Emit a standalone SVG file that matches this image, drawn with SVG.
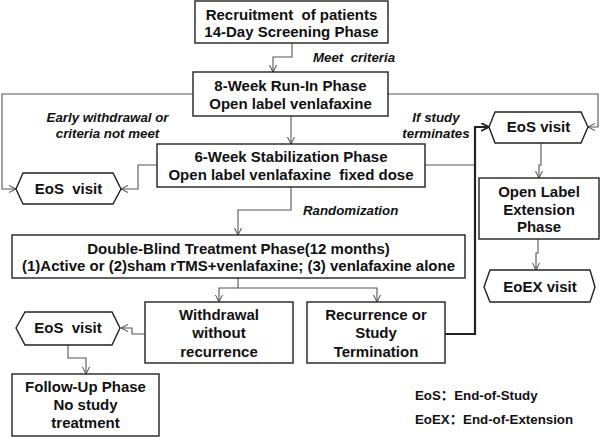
<svg xmlns="http://www.w3.org/2000/svg" width="600" height="437" viewBox="0 0 600 437">
<defs>
<style>
.box{fill:#fff;stroke:#222;stroke-width:1.4}
.t{font-family:"Liberation Sans",Arial,sans-serif;font-weight:bold;font-size:15px;fill:#111;text-anchor:middle;white-space:pre}
.lab{font-family:"Liberation Sans",Arial,sans-serif;font-weight:bold;font-style:italic;font-size:13.3px;fill:#111;white-space:pre}
.leg{font-family:"Liberation Sans",Arial,"Noto Sans CJK SC",sans-serif;font-weight:bold;font-size:13.3px;fill:#111;white-space:pre}
.c{fill:none;stroke:#555;stroke-width:1.1;marker-end:url(#a)}
.ct{fill:none;stroke:#222;stroke-width:2.2;marker-end:url(#b)}
</style>
<marker id="a" viewBox="0 0 8 8" refX="7.5" refY="4" markerWidth="8" markerHeight="8" markerUnits="userSpaceOnUse" orient="auto">
<path d="M0.5,0.5 L7.5,4 L0.5,7.5" fill="none" stroke="#444" stroke-width="1"/>
</marker>
<marker id="b" viewBox="0 0 8 8" refX="7.5" refY="4" markerWidth="9" markerHeight="9" markerUnits="userSpaceOnUse" orient="auto">
<path d="M0.5,0.5 L7.5,4 L0.5,7.5" fill="none" stroke="#222" stroke-width="1.6"/>
</marker>
</defs>
<rect width="600" height="437" fill="#fff"/>

<g id="connectors">
<path class="c" d="M292,43 V57 H273 V72"/>
<path class="c" d="M291,116 V144"/>
<path class="c" d="M193,94 H2 V189 H16"/>
<path class="c" d="M388,94 H598 V127 H588"/>
<path class="c" d="M157,165 H138 V189 H121"/>
<path fill="none" stroke="#555" stroke-width="1.1" d="M425,165 H475"/>
<path class="ct" d="M445,334 H475 V127 H489"/>
<path class="c" d="M541,143 V165 H539 V178"/>
<path class="c" d="M538,239 V253 H536 V270"/>
<path class="c" d="M291,187 V210 H238 V235"/>
<path class="c" d="M238,278 V288 H219 V302"/>
<path class="c" d="M238,288 H377 V302"/>
<path class="c" d="M145,334 H132 V328 H121"/>
<path class="c" d="M68,345 V358 H86 V374"/>
<text class="lab" x="313" y="62">Meet  criteria</text>
<text class="lab" x="107.5" y="122" text-anchor="middle">Early withdrawal or</text>
<text class="lab" x="107.5" y="138" text-anchor="middle">criteria not meet</text>
<text class="lab" x="436" y="122" text-anchor="middle">If study</text>
<text class="lab" x="436" y="138" text-anchor="middle">terminates</text>
<text class="lab" x="303" y="215">Randomization</text>
</g>

<g id="recruitment">
<rect class="box" x="195" y="1" width="193" height="42"/>
<text class="t" x="291.5" y="20">Recruitment  of patients</text>
<text class="t" x="291.5" y="37">14-Day Screening Phase</text>
</g>

<g id="runin">
<rect class="box" x="193" y="72" width="195" height="44"/>
<text class="t" x="290.5" y="91">8-Week Run-In Phase</text>
<text class="t" x="290.5" y="109">Open label venlafaxine</text>
</g>

<g id="stabilization">
<rect class="box" x="157" y="144" width="268" height="43"/>
<text class="t" x="291" y="162">6-Week Stabilization Phase</text>
<text class="t" x="291" y="180">Open label venlafaxine  fixed dose</text>
</g>

<g id="eos1">
<polygon class="box" points="16,189 23,173 113,173 121,189 113,204 23,204"/>
<text class="t" x="68.5" y="194">EoS  visit</text>
</g>

<g id="eos2">
<polygon class="box" points="489,127 495,112 581,112 588,127 581,143 495,143"/>
<text class="t" x="538.5" y="132">EoS visit</text>
</g>

<g id="openlabel">
<rect class="box" x="479" y="178" width="120" height="61"/>
<text class="t" x="539" y="197">Open Label</text>
<text class="t" x="539" y="215">Extension</text>
<text class="t" x="539" y="232">Phase</text>
</g>

<g id="eoex">
<polygon class="box" points="484,287 490,270 590,270 595,287 590,302 490,302"/>
<text class="t" x="540" y="292">EoEX visit</text>
</g>

<g id="doubleblind">
<rect class="box" x="12" y="235" width="453" height="43"/>
<text class="t" x="238.5" y="254">Double-Blind Treatment Phase(12 months)</text>
<text class="t" x="238.5" y="271">(1)Active or (2)sham rTMS+venlafaxine; (3) venlafaxine alone</text>
</g>

<g id="withdrawal">
<rect class="box" x="145" y="302" width="148" height="61"/>
<text class="t" x="219" y="320">Withdrawal</text>
<text class="t" x="219" y="338">without</text>
<text class="t" x="219" y="357">recurrence</text>
</g>

<g id="recurrence">
<rect class="box" x="307" y="302" width="138" height="61"/>
<text class="t" x="376" y="320">Recurrence or</text>
<text class="t" x="376" y="338">Study</text>
<text class="t" x="376" y="357">Termination</text>
</g>

<g id="eos3">
<polygon class="box" points="16,328 25,312 112,312 120,328 112,345 25,345"/>
<text class="t" x="68" y="333">EoS  visit</text>
</g>

<g id="followup">
<rect class="box" x="12" y="374" width="147" height="62"/>
<text class="t" x="85.5" y="392">Follow-Up Phase</text>
<text class="t" x="85.5" y="410">No study</text>
<text class="t" x="85.5" y="428">treatment</text>
</g>

<g id="legend">
<text class="leg" x="415" y="400">EoS：End-of-Study</text>
<text class="leg" x="415" y="424">EoEX：End-of-Extension</text>
</g>
</svg>
